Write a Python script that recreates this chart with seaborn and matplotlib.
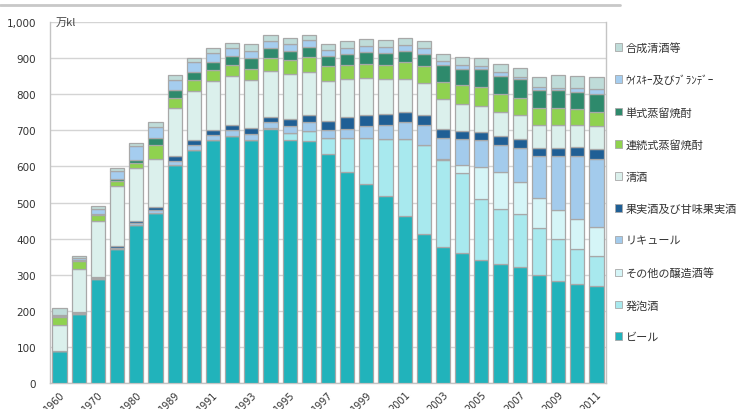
#!/usr/bin/env python3

import numpy as np
import matplotlib
matplotlib.use('Agg')
import matplotlib.pyplot as plt
from matplotlib.lines import Line2D
from matplotlib.patches import Patch
import seaborn as sns

SET_DPI = 100
FIGSIZE = (7.41, 4.10)

years = ['1960', '1965', '1970', '1975', '1980', '1985'] + \
        [str(y) for y in range(1989, 2012)]

# values in 万kl
beer = [88, 191, 289, 372, 437, 472, 605, 646, 672, 684, 674, 704, 674, 669,
        634, 584, 550, 518, 463, 414, 377, 360, 340, 331, 321, 298, 283, 275, 269]
happoshu = [0] * 11 + [2, 18, 28, 44, 94, 129, 157, 214, 246, 240, 223, 169,
                       150, 148, 131, 115, 97, 83]
sonota = [0] * 20 + [4, 22, 89, 103, 88, 83, 80, 81, 80]
liqueur = [1, 2, 2, 3, 5, 6, 9, 12, 16, 18, 17, 16, 21, 26, 24, 26, 34, 39,
           46, 54, 58, 70, 74, 76, 95, 118, 151, 176, 189]
fruit = [1, 3, 2, 4, 6, 9, 14, 14, 12, 12, 14, 14, 18, 18, 25, 32, 30, 30,
         28, 28, 25, 22, 23, 24, 23, 21, 23, 25, 28]
sake = [70, 121, 157, 168, 148, 134, 134, 138, 137, 136, 134, 129, 126, 120,
        109, 106, 102, 97, 92, 89, 83, 77, 72, 67, 66, 64, 62, 60, 63]
renzoku = [23, 20, 15, 12, 14, 37, 28, 30, 30, 30, 31, 34, 38, 41, 43, 40,
           39, 40, 46, 46, 48, 51, 53, 49, 48, 46, 48, 46, 40]
tanshiki = [2, 3, 4, 6, 7, 21, 21, 21, 23, 25, 29, 28, 25, 29, 28, 30, 34,
            34, 32, 35, 46, 46, 49, 51, 53, 51, 49, 46, 49]
whisky = [2, 6, 14, 23, 39, 31, 28, 28, 24, 23, 22, 21, 20, 18, 16, 16, 15,
          16, 14, 16, 10, 9, 9, 11, 7, 9, 7, 11, 14]
gosei = [22, 7, 7, 7, 9, 12, 14, 12, 15, 15, 17, 16, 17, 16, 17, 18, 20, 20,
         20, 18, 20, 23, 22, 23, 23, 28, 34, 33, 33]

series = [
    ('ビール', beer, '#21b3bb'),
    ('発泡酒', happoshu, '#a8e9ee'),
    ('その他の醸造酒等', sonota, '#d5f5f7'),
    ('リキュール', liqueur, '#a3cbec'),
    ('果実酒及び甘味果実酒', fruit, '#1f5f95'),
    ('清酒', sake, '#dbf0ec'),
    ('連続式蒸留焼酎', renzoku, '#8fd24f'),
    ('単式蒸留焼酎', tanshiki, '#2e8a6c'),
    ('ｳｲｽｷｰ及びﾌﾞﾗﾝﾃﾞｰ', whisky, '#a5cdef'),
    ('合成清酒等', gosei, '#bfdcd9'),
]

sns.set_style('white')
plt.rcParams['font.family'] = ['Noto Sans CJK JP', 'DejaVu Sans']

fig = plt.figure(figsize=FIGSIZE, dpi=SET_DPI)
ax = fig.add_axes([50 / 741, 1 - 384 / 410, 556 / 741, 361 / 410])

cum = np.zeros(len(years))
for name, vals, col in series:
    sns.barplot(x=years, y=vals, bottom=cum, color=col, ax=ax,
                errorbar=None, width=0.74, edgecolor='#a8a8a8',
                linewidth=0.9, saturation=1, zorder=3)
    cum = cum + np.asarray(vals)

ax.set_ylim(0, 1000)
ax.set_xlim(-0.44, len(years) - 0.51)
ax.set_yticks(range(0, 1001, 100))
ax.set_yticklabels([f'{v:,}' for v in range(0, 1001, 100)],
                   family='DejaVu Sans', fontsize=7.5, color='#333333')
ax.yaxis.grid(True, color='#d4d4d4', linewidth=1, zorder=0)
ax.set_axisbelow(True)

ax.set_xticks(range(0, len(years), 2))
ax.set_xticklabels(years[::2], rotation=45, ha='right',
                   rotation_mode='anchor', family='DejaVu Sans',
                   fontsize=7, color='#333333')
ax.set_xticks(np.arange(-0.5, len(years), 1), minor=True)
ax.tick_params(axis='x', which='major', length=0, pad=4)
ax.tick_params(axis='x', which='minor', length=3, color='#bbbbbb',
               direction='out')
ax.tick_params(axis='y', length=0, pad=10)
ax.set_xlabel('')
ax.set_ylabel('')

for side in ['left', 'right', 'bottom', 'top']:
    ax.spines[side].set_color('#c4c4c4')
    ax.spines[side].set_linewidth(1)
ax.spines['top'].set_visible(False)

ax.text(0.01, 1.0, '万kl', transform=ax.transAxes, fontsize=8,
        color='#444444', va='center', ha='left')

handles = [Patch(facecolor=col, edgecolor='#a8a8a8', linewidth=0.6, label=name)
           for name, vals, col in series[::-1]]
fig.legend(handles=handles, loc='upper left',
           bbox_to_anchor=(605 / 741, 1 - 33 / 410), frameon=False,
           fontsize=8, labelspacing=1.95, handlelength=0.65,
           handleheight=0.65, handletextpad=0.3, labelcolor='#333333')

fig.add_artist(Line2D([0, 620 / 741], [1 - 6 / 410, 1 - 6 / 410],
                      color='#c8c8c8', linewidth=2))

fig.savefig('out.png', dpi=SET_DPI)
